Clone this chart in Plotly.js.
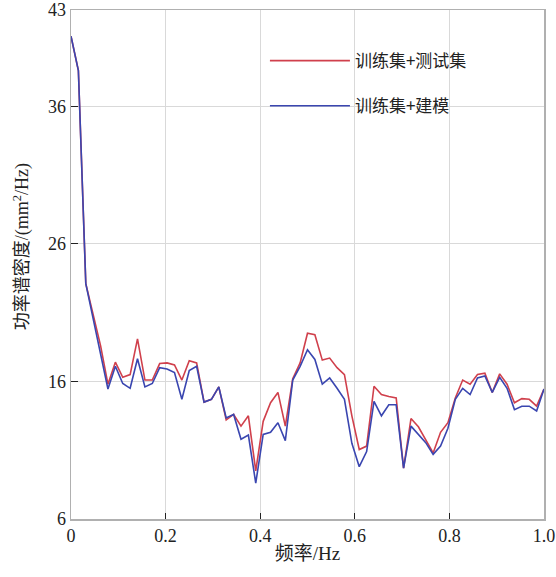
<!DOCTYPE html>
<html>
<head>
<meta charset="utf-8">
<script src="https://cdn.plot.ly/plotly-3.0.1.min.js"></script>
<style>html,body{margin:0;padding:0;background:#fff;}#chart{width:556px;height:577px;}</style>
</head>
<body>
<div id="chart"></div>
<script>
var freq = [0, 0.0156, 0.0313, 0.0469, 0.0625, 0.0781, 0.0938, 0.1094, 0.125, 0.1406,
  0.1563, 0.1719, 0.1875, 0.2031, 0.2188, 0.2344, 0.25, 0.2656, 0.2813, 0.2969,
  0.3125, 0.3281, 0.3438, 0.3594, 0.375, 0.3906, 0.4063, 0.4219, 0.4375, 0.4531,
  0.4688, 0.4844, 0.5, 0.5156, 0.5313, 0.5469, 0.5625, 0.5781, 0.5938, 0.6094,
  0.625, 0.6406, 0.6563, 0.6719, 0.6875, 0.7031, 0.7188, 0.7344, 0.75, 0.7656,
  0.7813, 0.7969, 0.8125, 0.8281, 0.8438, 0.8594, 0.875, 0.8906, 0.9063, 0.9219,
  0.9375, 0.9531, 0.9688, 0.9844, 1.0];

var trainTest = [41.1, 38.6, 23.1, 20.9, 18.6, 15.8, 17.4, 16.3, 16.5, 19.1,
  16.1, 16.1, 17.3, 17.35, 17.2, 16.1, 17.5, 17.35, 14.5, 14.7,
  15.6, 13.2, 13.6, 12.75, 13.5, 9.5, 13.1, 14.45, 15.2, 12.75,
  16.2, 17.35, 19.5, 19.4, 17.55, 17.7, 17.0, 16.5, 13.5, 11.05,
  11.3, 15.65, 15.05, 14.9, 14.8, 9.7, 13.3, 12.7, 11.8, 10.8,
  12.3, 13.0, 14.8, 16.1, 15.8, 16.5, 16.6, 15.2, 16.55, 15.8,
  14.45, 14.75, 14.7, 14.2, 15.45];

var trainModel = [41.1, 38.6, 23.1, 20.6, 18.2, 15.45, 17.1, 15.85, 15.5, 17.65,
  15.6, 15.85, 17.0, 16.9, 16.65, 14.7, 16.8, 17.1, 14.5, 14.7,
  15.6, 13.35, 13.6, 11.8, 12.1, 8.6, 12.15, 12.3, 13.0, 11.7,
  16.1, 17.1, 18.3, 17.6, 15.8, 16.25, 15.5, 14.7, 11.5, 9.8,
  10.9, 14.55, 13.5, 14.3, 14.3, 9.7, 12.75, 12.15, 11.55, 10.7,
  11.3, 12.6, 14.7, 15.5, 15.05, 16.25, 16.4, 15.2, 16.3, 15.5,
  13.95, 14.2, 14.2, 13.85, 15.45];

var seriesNames = ['训练集+测试集', '训练集+建模'];
var xTickVals = [0, 0.2, 0.4, 0.6, 0.8, 1.0];
var xTickText = ['0', '0.2', '0.4', '0.6', '0.8', '1.0'];
var yTickVals = [6, 16, 26, 36, 43];
var yTitle = '功率谱密度/(mm<sup>2</sup>/Hz)';
var xTitle = '频率/Hz';

var fontFam = 'Liberation Serif, Noto Sans CJK SC, serif';

var traces = [
  {x: freq, y: trainTest, name: seriesNames[0], type: 'scatter', mode: 'lines',
   line: {color: '#d0404c', width: 1.6}, legendgroup: 'a'},
  {x: freq, y: trainModel, name: seriesNames[1], type: 'scatter', mode: 'lines',
   line: {color: '#3a46b0', width: 1.6}, legendgroup: 'b'}
];

var layout = {
  width: 556, height: 577,
  margin: {l: 71, r: 12, t: 10, b: 58},
  paper_bgcolor: '#fff', plot_bgcolor: '#fff',
  font: {family: fontFam, size: 18, color: '#222'},
  showlegend: true,
  legend: {x: 0.41, y: 0.935, xanchor: 'left', yanchor: 'top',
    bgcolor: 'rgba(0,0,0,0)', itemwidth: 80, tracegroupgap: 20,
    font: {family: 'Noto Sans CJK SC, sans-serif', size: 17, color: '#222'}},
  xaxis: {
    range: [0, 1], tickvals: xTickVals, ticktext: xTickText,
    ticks: 'inside', ticklen: 6, tickcolor: '#222', tickwidth: 1,
    showgrid: true, gridcolor: '#d9d9d9', gridwidth: 1.2,
    showline: true, linecolor: '#b0b0b0', linewidth: 1.5, mirror: true,
    zeroline: false,
    tickfont: {family: fontFam, size: 18, color: '#222'},
    title: {text: xTitle, font: {family: fontFam, size: 19, color: '#222'}, standoff: 1}
  },
  yaxis: {
    range: [6, 43], tickvals: yTickVals,
    ticks: 'inside', ticklen: 7, tickcolor: '#222', tickwidth: 1,
    showgrid: true, gridcolor: '#d9d9d9', gridwidth: 1.2,
    showline: true, linecolor: '#b0b0b0', linewidth: 1.5, mirror: true,
    zeroline: false,
    tickfont: {family: fontFam, size: 18, color: '#222'}
  },
  annotations: [{
    text: yTitle, textangle: -90, showarrow: false,
    xref: 'paper', yref: 'paper', x: 0, y: 0.534, xanchor: 'center', yanchor: 'middle',
    xshift: -49, font: {family: fontFam, size: 18, color: '#222'}
  }]
};

Plotly.newPlot('chart', traces, layout, {displayModeBar: false, staticPlot: true});
</script>
</body>
</html>
